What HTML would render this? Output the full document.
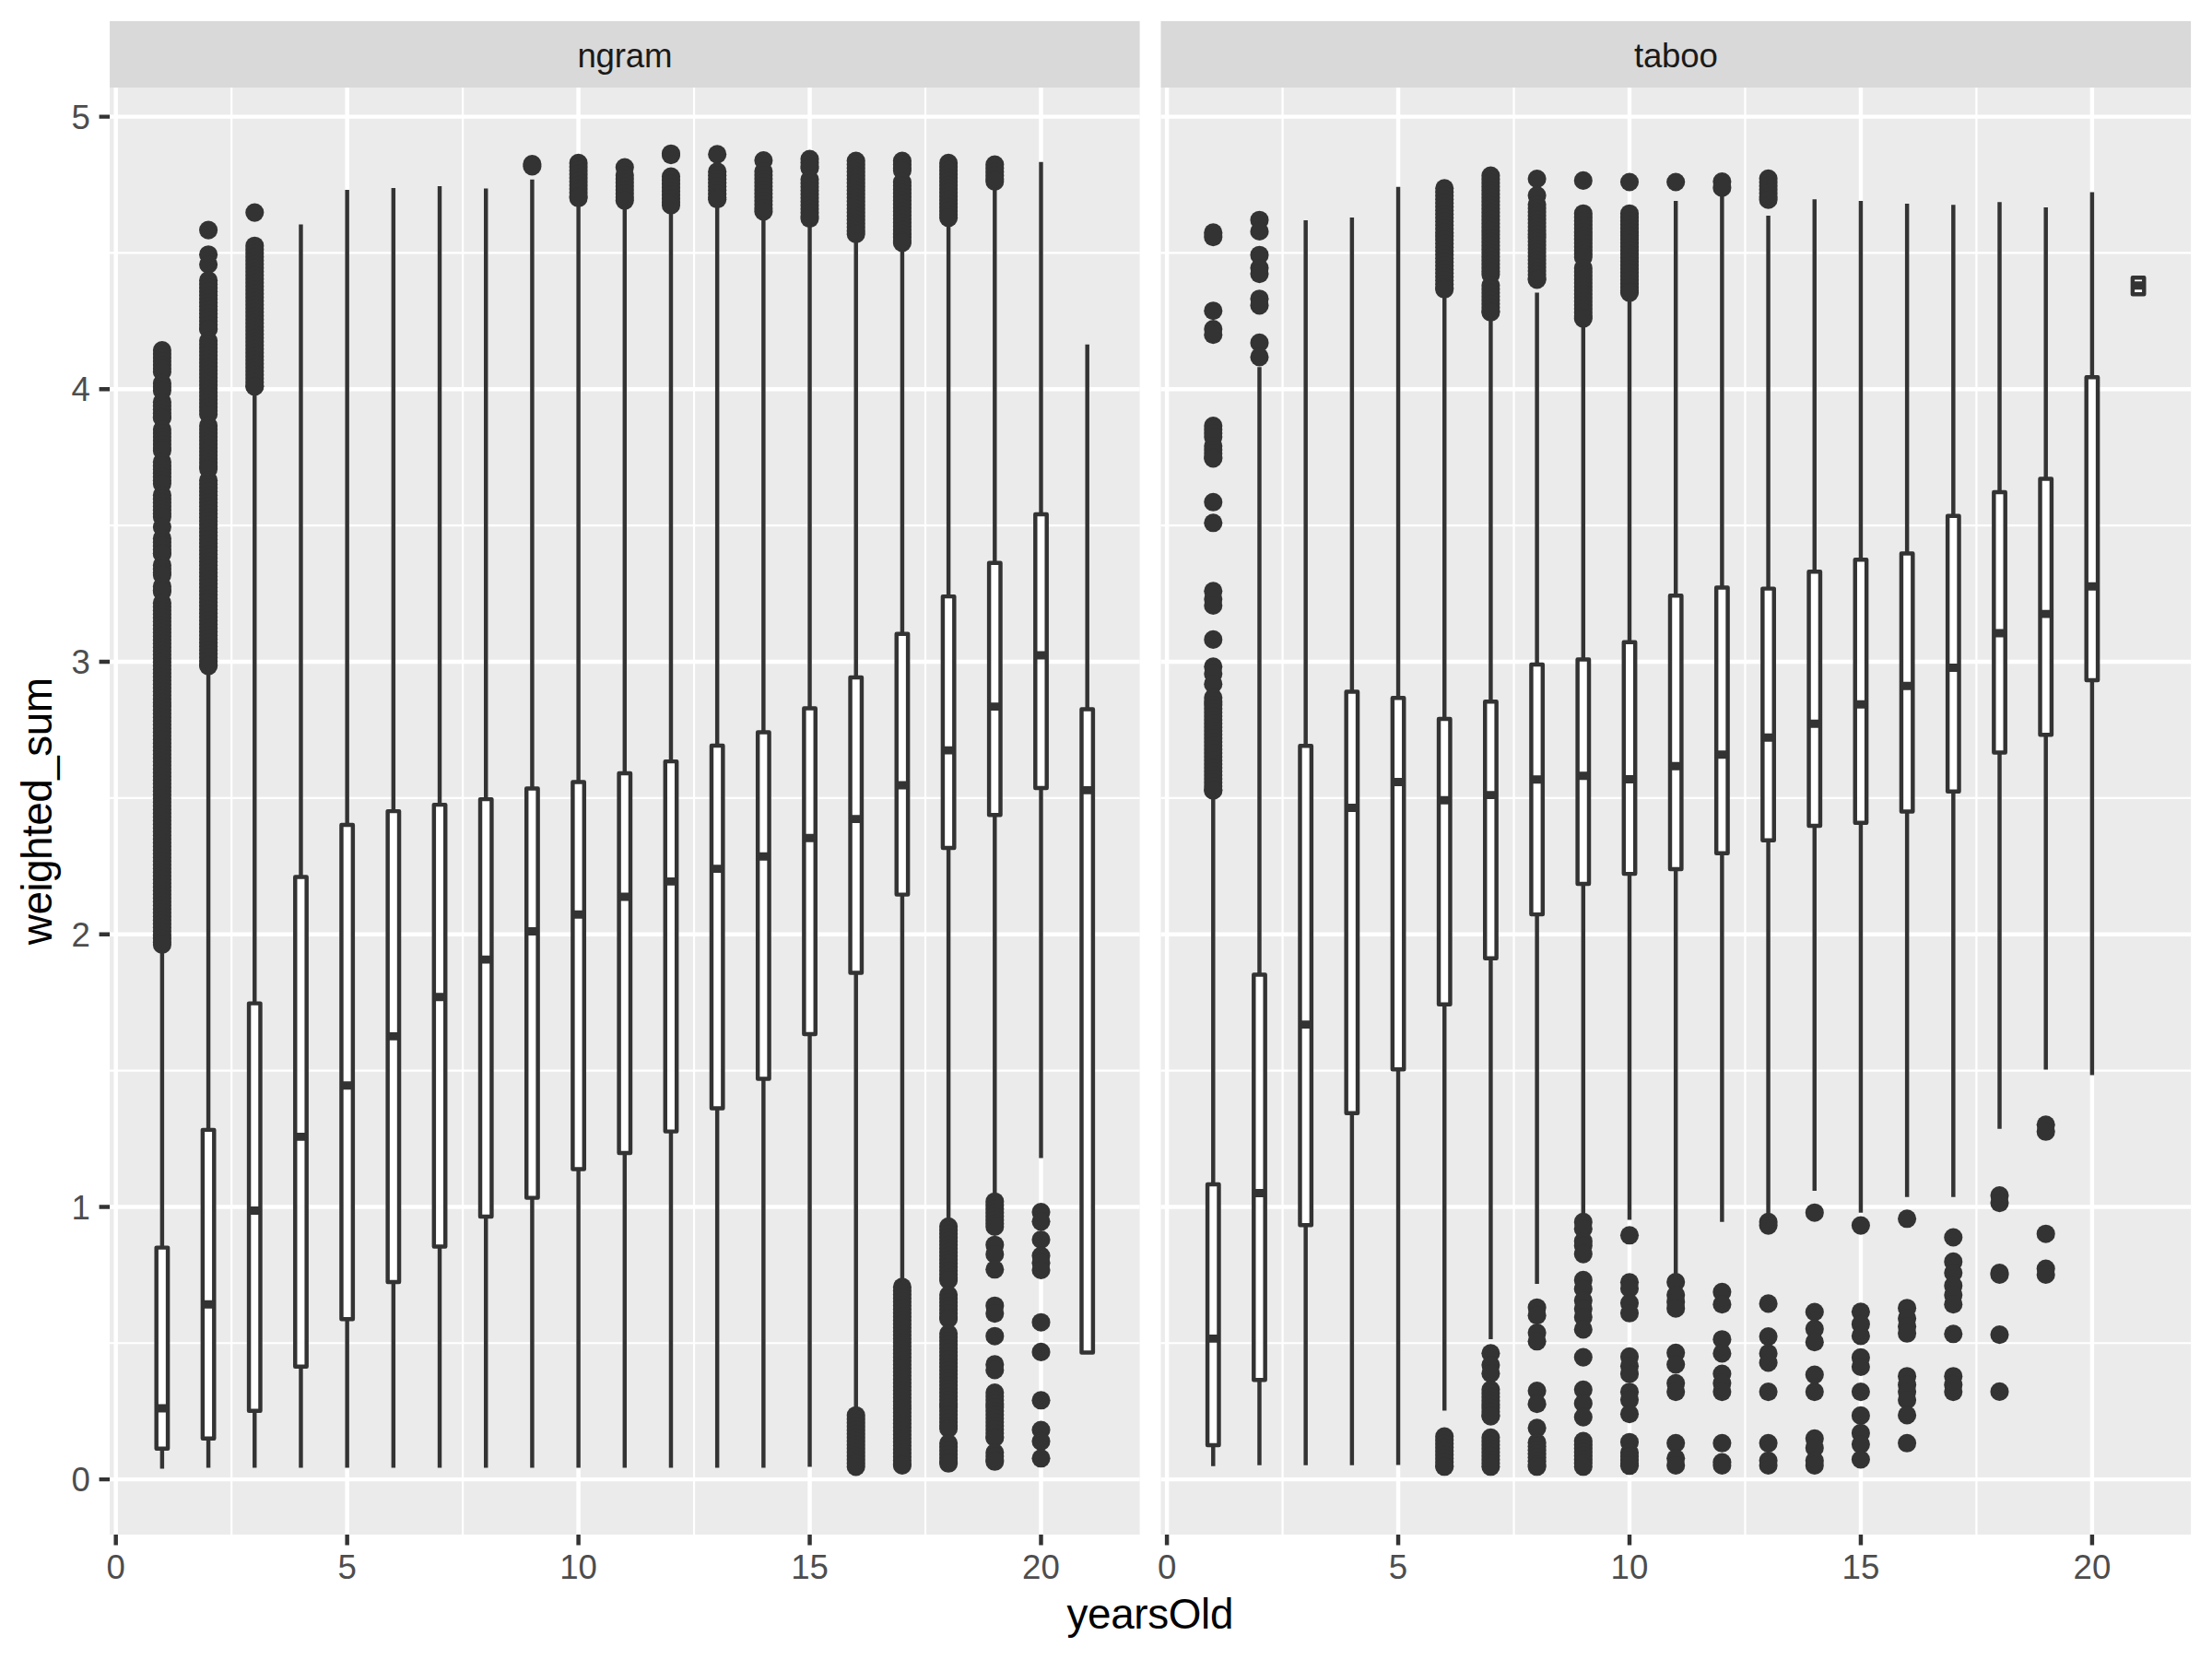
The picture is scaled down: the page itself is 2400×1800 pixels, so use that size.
<!DOCTYPE html>
<html><head><meta charset="utf-8"><title>plot</title><style>html,body{margin:0;padding:0;background:#fff}body{width:2400px;height:1800px;overflow:hidden}</style></head><body>
<svg width="2400" height="1800" viewBox="0 0 2400 1800" style="display:block">
<rect width="2400" height="1800" fill="#fff"/>
<rect x="119.06" y="22.9" width="1117.54" height="72.10" fill="#D9D9D9"/>
<text x="677.83" y="72.8" text-anchor="middle" font-size="36.67" letter-spacing="-0.2" fill="#1A1A1A" font-family="Liberation Sans, Arial, Helvetica, sans-serif">ngram</text>
<rect x="119.06" y="95.0" width="1117.54" height="1570.0" fill="#EBEBEB"/>
<path d="M119.06 1457.25H1236.60M119.06 1161.55H1236.60M119.06 865.85H1236.60M119.06 570.15H1236.60M119.06 274.45H1236.60M251.18 95.0V1665.0M502.12 95.0V1665.0M753.08 95.0V1665.0M1004.02 95.0V1665.0" stroke="#fff" stroke-width="2.22" fill="none"/>
<path d="M119.06 1605.10H1236.60M119.06 1309.40H1236.60M119.06 1013.70H1236.60M119.06 718.00H1236.60M119.06 422.30H1236.60M119.06 126.60H1236.60M125.70 95.0V1665.0M376.65 95.0V1665.0M627.60 95.0V1665.0M878.55 95.0V1665.0M1129.50 95.0V1665.0" stroke="#fff" stroke-width="4.45" fill="none"/>
<g fill="#333" stroke="none">
<circle cx="175.9" cy="380.1" r="10.05"/>
<circle cx="175.9" cy="384.1" r="10.05"/>
<circle cx="175.9" cy="388.1" r="10.05"/>
<circle cx="175.9" cy="392.1" r="10.05"/>
<circle cx="175.9" cy="396.1" r="10.05"/>
<circle cx="175.9" cy="400.1" r="10.05"/>
<circle cx="175.9" cy="403.4" r="10.05"/>
<circle cx="175.9" cy="415.9" r="10.05"/>
<circle cx="175.9" cy="419.9" r="10.05"/>
<circle cx="175.9" cy="423.8" r="10.05"/>
<circle cx="175.9" cy="436.2" r="10.05"/>
<circle cx="175.9" cy="440.2" r="10.05"/>
<circle cx="175.9" cy="444.2" r="10.05"/>
<circle cx="175.9" cy="448.2" r="10.05"/>
<circle cx="175.9" cy="452.2" r="10.05"/>
<circle cx="175.9" cy="453.6" r="10.05"/>
<circle cx="175.9" cy="466.1" r="10.05"/>
<circle cx="175.9" cy="470.1" r="10.05"/>
<circle cx="175.9" cy="474.1" r="10.05"/>
<circle cx="175.9" cy="478.1" r="10.05"/>
<circle cx="175.9" cy="482.1" r="10.05"/>
<circle cx="175.9" cy="486.1" r="10.05"/>
<circle cx="175.9" cy="488.8" r="10.05"/>
<circle cx="175.9" cy="501.2" r="10.05"/>
<circle cx="175.9" cy="505.2" r="10.05"/>
<circle cx="175.9" cy="509.2" r="10.05"/>
<circle cx="175.9" cy="513.2" r="10.05"/>
<circle cx="175.9" cy="517.2" r="10.05"/>
<circle cx="175.9" cy="521.2" r="10.05"/>
<circle cx="175.9" cy="524.8" r="10.05"/>
<circle cx="175.9" cy="537.2" r="10.05"/>
<circle cx="175.9" cy="541.2" r="10.05"/>
<circle cx="175.9" cy="545.2" r="10.05"/>
<circle cx="175.9" cy="549.2" r="10.05"/>
<circle cx="175.9" cy="553.2" r="10.05"/>
<circle cx="175.9" cy="557.2" r="10.05"/>
<circle cx="175.9" cy="560.8" r="10.05"/>
<circle cx="175.9" cy="571.8" r="10.05"/>
<circle cx="175.9" cy="584.2" r="10.05"/>
<circle cx="175.9" cy="588.2" r="10.05"/>
<circle cx="175.9" cy="592.2" r="10.05"/>
<circle cx="175.9" cy="596.2" r="10.05"/>
<circle cx="175.9" cy="600.2" r="10.05"/>
<circle cx="175.9" cy="600.8" r="10.05"/>
<circle cx="175.9" cy="613.2" r="10.05"/>
<circle cx="175.9" cy="617.2" r="10.05"/>
<circle cx="175.9" cy="621.2" r="10.05"/>
<circle cx="175.9" cy="623.8" r="10.05"/>
<circle cx="175.9" cy="636.2" r="10.05"/>
<circle cx="175.9" cy="640.2" r="10.05"/>
<circle cx="175.9" cy="641.8" r="10.05"/>
<circle cx="175.9" cy="654.2" r="10.05"/>
<circle cx="175.9" cy="658.2" r="10.05"/>
<circle cx="175.9" cy="662.2" r="10.05"/>
<circle cx="175.9" cy="666.2" r="10.05"/>
<circle cx="175.9" cy="670.2" r="10.05"/>
<circle cx="175.9" cy="674.2" r="10.05"/>
<circle cx="175.9" cy="678.2" r="10.05"/>
<circle cx="175.9" cy="682.2" r="10.05"/>
<circle cx="175.9" cy="686.2" r="10.05"/>
<circle cx="175.9" cy="690.2" r="10.05"/>
<circle cx="175.9" cy="694.2" r="10.05"/>
<circle cx="175.9" cy="698.2" r="10.05"/>
<circle cx="175.9" cy="702.2" r="10.05"/>
<circle cx="175.9" cy="706.2" r="10.05"/>
<circle cx="175.9" cy="710.2" r="10.05"/>
<circle cx="175.9" cy="714.2" r="10.05"/>
<circle cx="175.9" cy="718.2" r="10.05"/>
<circle cx="175.9" cy="722.2" r="10.05"/>
<circle cx="175.9" cy="726.2" r="10.05"/>
<circle cx="175.9" cy="730.2" r="10.05"/>
<circle cx="175.9" cy="734.2" r="10.05"/>
<circle cx="175.9" cy="738.2" r="10.05"/>
<circle cx="175.9" cy="742.2" r="10.05"/>
<circle cx="175.9" cy="746.2" r="10.05"/>
<circle cx="175.9" cy="750.2" r="10.05"/>
<circle cx="175.9" cy="754.2" r="10.05"/>
<circle cx="175.9" cy="758.2" r="10.05"/>
<circle cx="175.9" cy="762.2" r="10.05"/>
<circle cx="175.9" cy="766.2" r="10.05"/>
<circle cx="175.9" cy="770.2" r="10.05"/>
<circle cx="175.9" cy="774.2" r="10.05"/>
<circle cx="175.9" cy="778.2" r="10.05"/>
<circle cx="175.9" cy="782.2" r="10.05"/>
<circle cx="175.9" cy="786.2" r="10.05"/>
<circle cx="175.9" cy="790.2" r="10.05"/>
<circle cx="175.9" cy="794.2" r="10.05"/>
<circle cx="175.9" cy="798.2" r="10.05"/>
<circle cx="175.9" cy="802.2" r="10.05"/>
<circle cx="175.9" cy="806.2" r="10.05"/>
<circle cx="175.9" cy="810.2" r="10.05"/>
<circle cx="175.9" cy="814.2" r="10.05"/>
<circle cx="175.9" cy="818.2" r="10.05"/>
<circle cx="175.9" cy="822.2" r="10.05"/>
<circle cx="175.9" cy="826.2" r="10.05"/>
<circle cx="175.9" cy="830.2" r="10.05"/>
<circle cx="175.9" cy="834.2" r="10.05"/>
<circle cx="175.9" cy="838.2" r="10.05"/>
<circle cx="175.9" cy="842.2" r="10.05"/>
<circle cx="175.9" cy="846.2" r="10.05"/>
<circle cx="175.9" cy="850.2" r="10.05"/>
<circle cx="175.9" cy="854.2" r="10.05"/>
<circle cx="175.9" cy="858.2" r="10.05"/>
<circle cx="175.9" cy="862.2" r="10.05"/>
<circle cx="175.9" cy="866.2" r="10.05"/>
<circle cx="175.9" cy="870.2" r="10.05"/>
<circle cx="175.9" cy="874.2" r="10.05"/>
<circle cx="175.9" cy="878.2" r="10.05"/>
<circle cx="175.9" cy="882.2" r="10.05"/>
<circle cx="175.9" cy="886.2" r="10.05"/>
<circle cx="175.9" cy="890.2" r="10.05"/>
<circle cx="175.9" cy="894.2" r="10.05"/>
<circle cx="175.9" cy="898.2" r="10.05"/>
<circle cx="175.9" cy="902.2" r="10.05"/>
<circle cx="175.9" cy="906.2" r="10.05"/>
<circle cx="175.9" cy="910.2" r="10.05"/>
<circle cx="175.9" cy="914.2" r="10.05"/>
<circle cx="175.9" cy="918.2" r="10.05"/>
<circle cx="175.9" cy="922.2" r="10.05"/>
<circle cx="175.9" cy="926.2" r="10.05"/>
<circle cx="175.9" cy="930.2" r="10.05"/>
<circle cx="175.9" cy="934.2" r="10.05"/>
<circle cx="175.9" cy="938.2" r="10.05"/>
<circle cx="175.9" cy="942.2" r="10.05"/>
<circle cx="175.9" cy="946.2" r="10.05"/>
<circle cx="175.9" cy="950.2" r="10.05"/>
<circle cx="175.9" cy="954.2" r="10.05"/>
<circle cx="175.9" cy="958.2" r="10.05"/>
<circle cx="175.9" cy="962.2" r="10.05"/>
<circle cx="175.9" cy="966.2" r="10.05"/>
<circle cx="175.9" cy="970.2" r="10.05"/>
<circle cx="175.9" cy="974.2" r="10.05"/>
<circle cx="175.9" cy="978.2" r="10.05"/>
<circle cx="175.9" cy="982.2" r="10.05"/>
<circle cx="175.9" cy="986.2" r="10.05"/>
<circle cx="175.9" cy="990.2" r="10.05"/>
<circle cx="175.9" cy="994.2" r="10.05"/>
<circle cx="175.9" cy="998.2" r="10.05"/>
<circle cx="175.9" cy="1002.2" r="10.05"/>
<circle cx="175.9" cy="1006.2" r="10.05"/>
<circle cx="175.9" cy="1010.2" r="10.05"/>
<circle cx="175.9" cy="1014.2" r="10.05"/>
<circle cx="175.9" cy="1018.2" r="10.05"/>
<circle cx="175.9" cy="1022.2" r="10.05"/>
<circle cx="175.9" cy="1025.0" r="10.05"/>
<circle cx="226.1" cy="249.6" r="10.05"/>
<circle cx="226.1" cy="276.2" r="10.05"/>
<circle cx="226.1" cy="287.0" r="10.05"/>
<circle cx="226.1" cy="304.2" r="10.05"/>
<circle cx="226.1" cy="308.2" r="10.05"/>
<circle cx="226.1" cy="312.2" r="10.05"/>
<circle cx="226.1" cy="316.2" r="10.05"/>
<circle cx="226.1" cy="320.2" r="10.05"/>
<circle cx="226.1" cy="324.2" r="10.05"/>
<circle cx="226.1" cy="328.2" r="10.05"/>
<circle cx="226.1" cy="332.2" r="10.05"/>
<circle cx="226.1" cy="336.2" r="10.05"/>
<circle cx="226.1" cy="340.2" r="10.05"/>
<circle cx="226.1" cy="344.2" r="10.05"/>
<circle cx="226.1" cy="348.2" r="10.05"/>
<circle cx="226.1" cy="352.2" r="10.05"/>
<circle cx="226.1" cy="356.2" r="10.05"/>
<circle cx="226.1" cy="357.2" r="10.05"/>
<circle cx="226.1" cy="369.8" r="10.05"/>
<circle cx="226.1" cy="373.8" r="10.05"/>
<circle cx="226.1" cy="377.8" r="10.05"/>
<circle cx="226.1" cy="381.8" r="10.05"/>
<circle cx="226.1" cy="385.8" r="10.05"/>
<circle cx="226.1" cy="389.8" r="10.05"/>
<circle cx="226.1" cy="393.8" r="10.05"/>
<circle cx="226.1" cy="397.8" r="10.05"/>
<circle cx="226.1" cy="401.8" r="10.05"/>
<circle cx="226.1" cy="405.8" r="10.05"/>
<circle cx="226.1" cy="409.8" r="10.05"/>
<circle cx="226.1" cy="413.8" r="10.05"/>
<circle cx="226.1" cy="417.8" r="10.05"/>
<circle cx="226.1" cy="421.8" r="10.05"/>
<circle cx="226.1" cy="425.8" r="10.05"/>
<circle cx="226.1" cy="429.8" r="10.05"/>
<circle cx="226.1" cy="433.8" r="10.05"/>
<circle cx="226.1" cy="437.8" r="10.05"/>
<circle cx="226.1" cy="441.8" r="10.05"/>
<circle cx="226.1" cy="445.8" r="10.05"/>
<circle cx="226.1" cy="449.4" r="10.05"/>
<circle cx="226.1" cy="461.9" r="10.05"/>
<circle cx="226.1" cy="465.9" r="10.05"/>
<circle cx="226.1" cy="469.9" r="10.05"/>
<circle cx="226.1" cy="473.9" r="10.05"/>
<circle cx="226.1" cy="477.9" r="10.05"/>
<circle cx="226.1" cy="481.9" r="10.05"/>
<circle cx="226.1" cy="485.9" r="10.05"/>
<circle cx="226.1" cy="489.9" r="10.05"/>
<circle cx="226.1" cy="493.9" r="10.05"/>
<circle cx="226.1" cy="497.9" r="10.05"/>
<circle cx="226.1" cy="501.9" r="10.05"/>
<circle cx="226.1" cy="505.9" r="10.05"/>
<circle cx="226.1" cy="508.8" r="10.05"/>
<circle cx="226.1" cy="521.2" r="10.05"/>
<circle cx="226.1" cy="525.2" r="10.05"/>
<circle cx="226.1" cy="529.2" r="10.05"/>
<circle cx="226.1" cy="533.2" r="10.05"/>
<circle cx="226.1" cy="537.2" r="10.05"/>
<circle cx="226.1" cy="541.2" r="10.05"/>
<circle cx="226.1" cy="545.2" r="10.05"/>
<circle cx="226.1" cy="549.2" r="10.05"/>
<circle cx="226.1" cy="553.2" r="10.05"/>
<circle cx="226.1" cy="557.2" r="10.05"/>
<circle cx="226.1" cy="561.2" r="10.05"/>
<circle cx="226.1" cy="565.2" r="10.05"/>
<circle cx="226.1" cy="569.2" r="10.05"/>
<circle cx="226.1" cy="573.2" r="10.05"/>
<circle cx="226.1" cy="577.2" r="10.05"/>
<circle cx="226.1" cy="581.2" r="10.05"/>
<circle cx="226.1" cy="585.2" r="10.05"/>
<circle cx="226.1" cy="589.2" r="10.05"/>
<circle cx="226.1" cy="593.2" r="10.05"/>
<circle cx="226.1" cy="597.2" r="10.05"/>
<circle cx="226.1" cy="601.2" r="10.05"/>
<circle cx="226.1" cy="605.2" r="10.05"/>
<circle cx="226.1" cy="609.2" r="10.05"/>
<circle cx="226.1" cy="613.2" r="10.05"/>
<circle cx="226.1" cy="617.2" r="10.05"/>
<circle cx="226.1" cy="621.2" r="10.05"/>
<circle cx="226.1" cy="625.2" r="10.05"/>
<circle cx="226.1" cy="629.2" r="10.05"/>
<circle cx="226.1" cy="633.2" r="10.05"/>
<circle cx="226.1" cy="637.2" r="10.05"/>
<circle cx="226.1" cy="641.2" r="10.05"/>
<circle cx="226.1" cy="645.2" r="10.05"/>
<circle cx="226.1" cy="649.2" r="10.05"/>
<circle cx="226.1" cy="653.2" r="10.05"/>
<circle cx="226.1" cy="657.2" r="10.05"/>
<circle cx="226.1" cy="661.2" r="10.05"/>
<circle cx="226.1" cy="665.2" r="10.05"/>
<circle cx="226.1" cy="669.2" r="10.05"/>
<circle cx="226.1" cy="673.2" r="10.05"/>
<circle cx="226.1" cy="677.2" r="10.05"/>
<circle cx="226.1" cy="681.2" r="10.05"/>
<circle cx="226.1" cy="685.2" r="10.05"/>
<circle cx="226.1" cy="689.2" r="10.05"/>
<circle cx="226.1" cy="693.2" r="10.05"/>
<circle cx="226.1" cy="697.2" r="10.05"/>
<circle cx="226.1" cy="701.2" r="10.05"/>
<circle cx="226.1" cy="705.2" r="10.05"/>
<circle cx="226.1" cy="709.2" r="10.05"/>
<circle cx="226.1" cy="713.2" r="10.05"/>
<circle cx="226.1" cy="717.2" r="10.05"/>
<circle cx="226.1" cy="721.2" r="10.05"/>
<circle cx="226.1" cy="722.6" r="10.05"/>
<circle cx="276.3" cy="230.6" r="10.05"/>
<circle cx="276.3" cy="266.7" r="10.05"/>
<circle cx="276.3" cy="270.7" r="10.05"/>
<circle cx="276.3" cy="274.7" r="10.05"/>
<circle cx="276.3" cy="278.7" r="10.05"/>
<circle cx="276.3" cy="282.7" r="10.05"/>
<circle cx="276.3" cy="286.7" r="10.05"/>
<circle cx="276.3" cy="290.7" r="10.05"/>
<circle cx="276.3" cy="294.7" r="10.05"/>
<circle cx="276.3" cy="298.7" r="10.05"/>
<circle cx="276.3" cy="302.7" r="10.05"/>
<circle cx="276.3" cy="306.7" r="10.05"/>
<circle cx="276.3" cy="310.7" r="10.05"/>
<circle cx="276.3" cy="314.7" r="10.05"/>
<circle cx="276.3" cy="318.7" r="10.05"/>
<circle cx="276.3" cy="322.7" r="10.05"/>
<circle cx="276.3" cy="326.7" r="10.05"/>
<circle cx="276.3" cy="330.7" r="10.05"/>
<circle cx="276.3" cy="334.7" r="10.05"/>
<circle cx="276.3" cy="338.7" r="10.05"/>
<circle cx="276.3" cy="342.7" r="10.05"/>
<circle cx="276.3" cy="346.7" r="10.05"/>
<circle cx="276.3" cy="350.7" r="10.05"/>
<circle cx="276.3" cy="354.7" r="10.05"/>
<circle cx="276.3" cy="358.7" r="10.05"/>
<circle cx="276.3" cy="362.7" r="10.05"/>
<circle cx="276.3" cy="366.7" r="10.05"/>
<circle cx="276.3" cy="370.7" r="10.05"/>
<circle cx="276.3" cy="374.7" r="10.05"/>
<circle cx="276.3" cy="378.7" r="10.05"/>
<circle cx="276.3" cy="382.7" r="10.05"/>
<circle cx="276.3" cy="386.7" r="10.05"/>
<circle cx="276.3" cy="390.7" r="10.05"/>
<circle cx="276.3" cy="394.7" r="10.05"/>
<circle cx="276.3" cy="398.7" r="10.05"/>
<circle cx="276.3" cy="402.7" r="10.05"/>
<circle cx="276.3" cy="406.7" r="10.05"/>
<circle cx="276.3" cy="410.7" r="10.05"/>
<circle cx="276.3" cy="414.7" r="10.05"/>
<circle cx="276.3" cy="418.7" r="10.05"/>
<circle cx="276.3" cy="419.3" r="10.05"/>
<circle cx="577.4" cy="178.0" r="10.05"/>
<circle cx="577.4" cy="180.5" r="10.05"/>
<circle cx="627.6" cy="176.9" r="10.05"/>
<circle cx="627.6" cy="180.9" r="10.05"/>
<circle cx="627.6" cy="184.9" r="10.05"/>
<circle cx="627.6" cy="188.9" r="10.05"/>
<circle cx="627.6" cy="192.9" r="10.05"/>
<circle cx="627.6" cy="196.9" r="10.05"/>
<circle cx="627.6" cy="200.9" r="10.05"/>
<circle cx="627.6" cy="204.9" r="10.05"/>
<circle cx="627.6" cy="208.9" r="10.05"/>
<circle cx="627.6" cy="212.9" r="10.05"/>
<circle cx="627.6" cy="214.8" r="10.05"/>
<circle cx="677.8" cy="181.6" r="10.05"/>
<circle cx="677.8" cy="190.0" r="10.05"/>
<circle cx="677.8" cy="194.0" r="10.05"/>
<circle cx="677.8" cy="198.0" r="10.05"/>
<circle cx="677.8" cy="202.0" r="10.05"/>
<circle cx="677.8" cy="206.0" r="10.05"/>
<circle cx="677.8" cy="210.0" r="10.05"/>
<circle cx="677.8" cy="214.0" r="10.05"/>
<circle cx="677.8" cy="217.6" r="10.05"/>
<circle cx="728.0" cy="166.7" r="10.05"/>
<circle cx="728.0" cy="168.1" r="10.05"/>
<circle cx="728.0" cy="191.6" r="10.05"/>
<circle cx="728.0" cy="195.6" r="10.05"/>
<circle cx="728.0" cy="199.6" r="10.05"/>
<circle cx="728.0" cy="203.6" r="10.05"/>
<circle cx="728.0" cy="207.6" r="10.05"/>
<circle cx="728.0" cy="211.6" r="10.05"/>
<circle cx="728.0" cy="215.6" r="10.05"/>
<circle cx="728.0" cy="219.6" r="10.05"/>
<circle cx="728.0" cy="222.7" r="10.05"/>
<circle cx="778.2" cy="167.4" r="10.05"/>
<circle cx="778.2" cy="186.2" r="10.05"/>
<circle cx="778.2" cy="190.2" r="10.05"/>
<circle cx="778.2" cy="194.2" r="10.05"/>
<circle cx="778.2" cy="198.2" r="10.05"/>
<circle cx="778.2" cy="202.2" r="10.05"/>
<circle cx="778.2" cy="206.2" r="10.05"/>
<circle cx="778.2" cy="210.2" r="10.05"/>
<circle cx="778.2" cy="214.2" r="10.05"/>
<circle cx="778.2" cy="216.2" r="10.05"/>
<circle cx="828.4" cy="174.0" r="10.05"/>
<circle cx="828.4" cy="186.0" r="10.05"/>
<circle cx="828.4" cy="190.0" r="10.05"/>
<circle cx="828.4" cy="194.0" r="10.05"/>
<circle cx="828.4" cy="198.0" r="10.05"/>
<circle cx="828.4" cy="202.0" r="10.05"/>
<circle cx="828.4" cy="206.0" r="10.05"/>
<circle cx="828.4" cy="210.0" r="10.05"/>
<circle cx="828.4" cy="214.0" r="10.05"/>
<circle cx="828.4" cy="218.0" r="10.05"/>
<circle cx="828.4" cy="222.0" r="10.05"/>
<circle cx="828.4" cy="226.0" r="10.05"/>
<circle cx="828.4" cy="229.5" r="10.05"/>
<circle cx="878.5" cy="172.6" r="10.05"/>
<circle cx="878.5" cy="176.6" r="10.05"/>
<circle cx="878.5" cy="180.6" r="10.05"/>
<circle cx="878.5" cy="182.4" r="10.05"/>
<circle cx="878.5" cy="194.8" r="10.05"/>
<circle cx="878.5" cy="198.8" r="10.05"/>
<circle cx="878.5" cy="202.8" r="10.05"/>
<circle cx="878.5" cy="206.8" r="10.05"/>
<circle cx="878.5" cy="210.8" r="10.05"/>
<circle cx="878.5" cy="214.8" r="10.05"/>
<circle cx="878.5" cy="218.8" r="10.05"/>
<circle cx="878.5" cy="222.8" r="10.05"/>
<circle cx="878.5" cy="226.8" r="10.05"/>
<circle cx="878.5" cy="230.8" r="10.05"/>
<circle cx="878.5" cy="234.8" r="10.05"/>
<circle cx="878.5" cy="237.1" r="10.05"/>
<circle cx="928.7" cy="174.5" r="10.05"/>
<circle cx="928.7" cy="178.5" r="10.05"/>
<circle cx="928.7" cy="182.5" r="10.05"/>
<circle cx="928.7" cy="186.5" r="10.05"/>
<circle cx="928.7" cy="190.5" r="10.05"/>
<circle cx="928.7" cy="194.5" r="10.05"/>
<circle cx="928.7" cy="198.5" r="10.05"/>
<circle cx="928.7" cy="202.5" r="10.05"/>
<circle cx="928.7" cy="206.5" r="10.05"/>
<circle cx="928.7" cy="210.5" r="10.05"/>
<circle cx="928.7" cy="214.5" r="10.05"/>
<circle cx="928.7" cy="218.5" r="10.05"/>
<circle cx="928.7" cy="222.5" r="10.05"/>
<circle cx="928.7" cy="226.5" r="10.05"/>
<circle cx="928.7" cy="230.5" r="10.05"/>
<circle cx="928.7" cy="234.5" r="10.05"/>
<circle cx="928.7" cy="238.5" r="10.05"/>
<circle cx="928.7" cy="242.5" r="10.05"/>
<circle cx="928.7" cy="246.5" r="10.05"/>
<circle cx="928.7" cy="250.5" r="10.05"/>
<circle cx="928.7" cy="253.9" r="10.05"/>
<circle cx="928.7" cy="1535.7" r="10.05"/>
<circle cx="928.7" cy="1539.7" r="10.05"/>
<circle cx="928.7" cy="1543.7" r="10.05"/>
<circle cx="928.7" cy="1547.7" r="10.05"/>
<circle cx="928.7" cy="1551.7" r="10.05"/>
<circle cx="928.7" cy="1555.7" r="10.05"/>
<circle cx="928.7" cy="1559.7" r="10.05"/>
<circle cx="928.7" cy="1563.7" r="10.05"/>
<circle cx="928.7" cy="1567.7" r="10.05"/>
<circle cx="928.7" cy="1571.7" r="10.05"/>
<circle cx="928.7" cy="1575.7" r="10.05"/>
<circle cx="928.7" cy="1579.7" r="10.05"/>
<circle cx="928.7" cy="1583.7" r="10.05"/>
<circle cx="928.7" cy="1587.7" r="10.05"/>
<circle cx="928.7" cy="1591.5" r="10.05"/>
<circle cx="978.9" cy="174.5" r="10.05"/>
<circle cx="978.9" cy="178.5" r="10.05"/>
<circle cx="978.9" cy="182.5" r="10.05"/>
<circle cx="978.9" cy="185.0" r="10.05"/>
<circle cx="978.9" cy="197.6" r="10.05"/>
<circle cx="978.9" cy="201.6" r="10.05"/>
<circle cx="978.9" cy="205.6" r="10.05"/>
<circle cx="978.9" cy="209.6" r="10.05"/>
<circle cx="978.9" cy="213.6" r="10.05"/>
<circle cx="978.9" cy="217.6" r="10.05"/>
<circle cx="978.9" cy="221.6" r="10.05"/>
<circle cx="978.9" cy="225.6" r="10.05"/>
<circle cx="978.9" cy="229.6" r="10.05"/>
<circle cx="978.9" cy="233.6" r="10.05"/>
<circle cx="978.9" cy="237.6" r="10.05"/>
<circle cx="978.9" cy="241.6" r="10.05"/>
<circle cx="978.9" cy="245.6" r="10.05"/>
<circle cx="978.9" cy="249.6" r="10.05"/>
<circle cx="978.9" cy="253.6" r="10.05"/>
<circle cx="978.9" cy="257.6" r="10.05"/>
<circle cx="978.9" cy="261.6" r="10.05"/>
<circle cx="978.9" cy="263.4" r="10.05"/>
<circle cx="978.9" cy="1396.4" r="10.05"/>
<circle cx="978.9" cy="1400.4" r="10.05"/>
<circle cx="978.9" cy="1404.4" r="10.05"/>
<circle cx="978.9" cy="1408.4" r="10.05"/>
<circle cx="978.9" cy="1412.4" r="10.05"/>
<circle cx="978.9" cy="1416.4" r="10.05"/>
<circle cx="978.9" cy="1420.4" r="10.05"/>
<circle cx="978.9" cy="1424.4" r="10.05"/>
<circle cx="978.9" cy="1428.4" r="10.05"/>
<circle cx="978.9" cy="1432.4" r="10.05"/>
<circle cx="978.9" cy="1436.4" r="10.05"/>
<circle cx="978.9" cy="1440.4" r="10.05"/>
<circle cx="978.9" cy="1444.4" r="10.05"/>
<circle cx="978.9" cy="1448.4" r="10.05"/>
<circle cx="978.9" cy="1452.4" r="10.05"/>
<circle cx="978.9" cy="1456.4" r="10.05"/>
<circle cx="978.9" cy="1460.4" r="10.05"/>
<circle cx="978.9" cy="1464.4" r="10.05"/>
<circle cx="978.9" cy="1468.4" r="10.05"/>
<circle cx="978.9" cy="1472.4" r="10.05"/>
<circle cx="978.9" cy="1476.4" r="10.05"/>
<circle cx="978.9" cy="1480.4" r="10.05"/>
<circle cx="978.9" cy="1484.4" r="10.05"/>
<circle cx="978.9" cy="1488.4" r="10.05"/>
<circle cx="978.9" cy="1492.4" r="10.05"/>
<circle cx="978.9" cy="1496.4" r="10.05"/>
<circle cx="978.9" cy="1500.4" r="10.05"/>
<circle cx="978.9" cy="1504.4" r="10.05"/>
<circle cx="978.9" cy="1508.4" r="10.05"/>
<circle cx="978.9" cy="1512.4" r="10.05"/>
<circle cx="978.9" cy="1516.4" r="10.05"/>
<circle cx="978.9" cy="1520.4" r="10.05"/>
<circle cx="978.9" cy="1524.4" r="10.05"/>
<circle cx="978.9" cy="1528.4" r="10.05"/>
<circle cx="978.9" cy="1532.4" r="10.05"/>
<circle cx="978.9" cy="1536.4" r="10.05"/>
<circle cx="978.9" cy="1540.4" r="10.05"/>
<circle cx="978.9" cy="1544.4" r="10.05"/>
<circle cx="978.9" cy="1548.4" r="10.05"/>
<circle cx="978.9" cy="1552.4" r="10.05"/>
<circle cx="978.9" cy="1556.4" r="10.05"/>
<circle cx="978.9" cy="1560.4" r="10.05"/>
<circle cx="978.9" cy="1564.4" r="10.05"/>
<circle cx="978.9" cy="1568.4" r="10.05"/>
<circle cx="978.9" cy="1572.4" r="10.05"/>
<circle cx="978.9" cy="1576.4" r="10.05"/>
<circle cx="978.9" cy="1580.4" r="10.05"/>
<circle cx="978.9" cy="1584.4" r="10.05"/>
<circle cx="978.9" cy="1588.4" r="10.05"/>
<circle cx="978.9" cy="1589.9" r="10.05"/>
<circle cx="1029.1" cy="176.9" r="10.05"/>
<circle cx="1029.1" cy="180.9" r="10.05"/>
<circle cx="1029.1" cy="184.9" r="10.05"/>
<circle cx="1029.1" cy="188.9" r="10.05"/>
<circle cx="1029.1" cy="192.9" r="10.05"/>
<circle cx="1029.1" cy="196.9" r="10.05"/>
<circle cx="1029.1" cy="200.9" r="10.05"/>
<circle cx="1029.1" cy="204.9" r="10.05"/>
<circle cx="1029.1" cy="208.9" r="10.05"/>
<circle cx="1029.1" cy="212.9" r="10.05"/>
<circle cx="1029.1" cy="216.9" r="10.05"/>
<circle cx="1029.1" cy="220.9" r="10.05"/>
<circle cx="1029.1" cy="224.9" r="10.05"/>
<circle cx="1029.1" cy="228.9" r="10.05"/>
<circle cx="1029.1" cy="232.9" r="10.05"/>
<circle cx="1029.1" cy="236.3" r="10.05"/>
<circle cx="1029.1" cy="1330.8" r="10.05"/>
<circle cx="1029.1" cy="1334.8" r="10.05"/>
<circle cx="1029.1" cy="1338.8" r="10.05"/>
<circle cx="1029.1" cy="1342.8" r="10.05"/>
<circle cx="1029.1" cy="1346.8" r="10.05"/>
<circle cx="1029.1" cy="1350.8" r="10.05"/>
<circle cx="1029.1" cy="1354.8" r="10.05"/>
<circle cx="1029.1" cy="1358.8" r="10.05"/>
<circle cx="1029.1" cy="1362.8" r="10.05"/>
<circle cx="1029.1" cy="1366.8" r="10.05"/>
<circle cx="1029.1" cy="1370.8" r="10.05"/>
<circle cx="1029.1" cy="1374.8" r="10.05"/>
<circle cx="1029.1" cy="1378.8" r="10.05"/>
<circle cx="1029.1" cy="1382.8" r="10.05"/>
<circle cx="1029.1" cy="1386.8" r="10.05"/>
<circle cx="1029.1" cy="1389.0" r="10.05"/>
<circle cx="1029.1" cy="1405.0" r="10.05"/>
<circle cx="1029.1" cy="1409.0" r="10.05"/>
<circle cx="1029.1" cy="1413.0" r="10.05"/>
<circle cx="1029.1" cy="1417.0" r="10.05"/>
<circle cx="1029.1" cy="1421.0" r="10.05"/>
<circle cx="1029.1" cy="1425.0" r="10.05"/>
<circle cx="1029.1" cy="1429.0" r="10.05"/>
<circle cx="1029.1" cy="1431.0" r="10.05"/>
<circle cx="1029.1" cy="1447.0" r="10.05"/>
<circle cx="1029.1" cy="1451.0" r="10.05"/>
<circle cx="1029.1" cy="1455.0" r="10.05"/>
<circle cx="1029.1" cy="1459.0" r="10.05"/>
<circle cx="1029.1" cy="1463.0" r="10.05"/>
<circle cx="1029.1" cy="1467.0" r="10.05"/>
<circle cx="1029.1" cy="1471.0" r="10.05"/>
<circle cx="1029.1" cy="1475.0" r="10.05"/>
<circle cx="1029.1" cy="1479.0" r="10.05"/>
<circle cx="1029.1" cy="1483.0" r="10.05"/>
<circle cx="1029.1" cy="1487.0" r="10.05"/>
<circle cx="1029.1" cy="1491.0" r="10.05"/>
<circle cx="1029.1" cy="1495.0" r="10.05"/>
<circle cx="1029.1" cy="1499.0" r="10.05"/>
<circle cx="1029.1" cy="1503.0" r="10.05"/>
<circle cx="1029.1" cy="1507.0" r="10.05"/>
<circle cx="1029.1" cy="1511.0" r="10.05"/>
<circle cx="1029.1" cy="1515.0" r="10.05"/>
<circle cx="1029.1" cy="1519.0" r="10.05"/>
<circle cx="1029.1" cy="1523.0" r="10.05"/>
<circle cx="1029.1" cy="1527.0" r="10.05"/>
<circle cx="1029.1" cy="1531.0" r="10.05"/>
<circle cx="1029.1" cy="1535.0" r="10.05"/>
<circle cx="1029.1" cy="1539.0" r="10.05"/>
<circle cx="1029.1" cy="1543.0" r="10.05"/>
<circle cx="1029.1" cy="1547.0" r="10.05"/>
<circle cx="1029.1" cy="1550.0" r="10.05"/>
<circle cx="1029.1" cy="1566.0" r="10.05"/>
<circle cx="1029.1" cy="1570.0" r="10.05"/>
<circle cx="1029.1" cy="1574.0" r="10.05"/>
<circle cx="1029.1" cy="1578.0" r="10.05"/>
<circle cx="1029.1" cy="1582.0" r="10.05"/>
<circle cx="1029.1" cy="1586.0" r="10.05"/>
<circle cx="1029.1" cy="1587.8" r="10.05"/>
<circle cx="1079.3" cy="178.6" r="10.05"/>
<circle cx="1079.3" cy="182.6" r="10.05"/>
<circle cx="1079.3" cy="186.6" r="10.05"/>
<circle cx="1079.3" cy="190.6" r="10.05"/>
<circle cx="1079.3" cy="194.6" r="10.05"/>
<circle cx="1079.3" cy="196.9" r="10.05"/>
<circle cx="1079.3" cy="1303.7" r="10.05"/>
<circle cx="1079.3" cy="1307.7" r="10.05"/>
<circle cx="1079.3" cy="1311.7" r="10.05"/>
<circle cx="1079.3" cy="1315.7" r="10.05"/>
<circle cx="1079.3" cy="1319.7" r="10.05"/>
<circle cx="1079.3" cy="1323.7" r="10.05"/>
<circle cx="1079.3" cy="1327.7" r="10.05"/>
<circle cx="1079.3" cy="1331.0" r="10.05"/>
<circle cx="1079.3" cy="1350.7" r="10.05"/>
<circle cx="1079.3" cy="1360.9" r="10.05"/>
<circle cx="1079.3" cy="1377.3" r="10.05"/>
<circle cx="1079.3" cy="1416.7" r="10.05"/>
<circle cx="1079.3" cy="1425.1" r="10.05"/>
<circle cx="1079.3" cy="1449.7" r="10.05"/>
<circle cx="1079.3" cy="1480.4" r="10.05"/>
<circle cx="1079.3" cy="1486.4" r="10.05"/>
<circle cx="1079.3" cy="1511.0" r="10.05"/>
<circle cx="1079.3" cy="1515.0" r="10.05"/>
<circle cx="1079.3" cy="1519.0" r="10.05"/>
<circle cx="1079.3" cy="1523.0" r="10.05"/>
<circle cx="1079.3" cy="1527.0" r="10.05"/>
<circle cx="1079.3" cy="1531.0" r="10.05"/>
<circle cx="1079.3" cy="1535.0" r="10.05"/>
<circle cx="1079.3" cy="1539.0" r="10.05"/>
<circle cx="1079.3" cy="1543.0" r="10.05"/>
<circle cx="1079.3" cy="1547.0" r="10.05"/>
<circle cx="1079.3" cy="1551.0" r="10.05"/>
<circle cx="1079.3" cy="1555.0" r="10.05"/>
<circle cx="1079.3" cy="1559.0" r="10.05"/>
<circle cx="1079.3" cy="1560.0" r="10.05"/>
<circle cx="1079.3" cy="1576.0" r="10.05"/>
<circle cx="1079.3" cy="1580.0" r="10.05"/>
<circle cx="1079.3" cy="1584.0" r="10.05"/>
<circle cx="1079.3" cy="1585.8" r="10.05"/>
<circle cx="1129.5" cy="1315.1" r="10.05"/>
<circle cx="1129.5" cy="1325.3" r="10.05"/>
<circle cx="1129.5" cy="1345.0" r="10.05"/>
<circle cx="1129.5" cy="1362.5" r="10.05"/>
<circle cx="1129.5" cy="1370.2" r="10.05"/>
<circle cx="1129.5" cy="1378.0" r="10.05"/>
<circle cx="1129.5" cy="1434.7" r="10.05"/>
<circle cx="1129.5" cy="1466.9" r="10.05"/>
<circle cx="1129.5" cy="1519.3" r="10.05"/>
<circle cx="1129.5" cy="1551.5" r="10.05"/>
<circle cx="1129.5" cy="1563.8" r="10.05"/>
<circle cx="1129.5" cy="1582.3" r="10.05"/>
</g>
<path d="M175.89 1353.6V1030M175.89 1571.8V1593.4M226.08 1225.85V725M226.08 1560.8V1592.5M276.27 1088.6V425M276.27 1530.8V1592.5M326.46 951.5V243.4M326.46 1482.7V1592.5M376.65 895.0V205.9M376.65 1431.2V1592.5M426.84 880.1V204.0M426.84 1391.0V1592.5M477.03 873.1V201.9M477.03 1352.5V1592.5M527.22 867.1V204.6M527.22 1320.0V1592.5M577.41 855.5V194.8M577.41 1299.6V1592.5M627.60 848.4V220M627.60 1268.4V1592.5M677.79 838.9V222M677.79 1251.0V1592.5M727.98 826.1V228M727.98 1227.6V1592.5M778.17 809.0V221M778.17 1202.4V1592.5M828.36 794.4V234M828.36 1170.4V1592.5M878.55 768.4V242M878.55 1121.9V1591.5M928.74 735.0V258M928.74 1055.4V1530M978.93 687.8V268M978.93 970.6V1390M1029.12 647.1V241M1029.12 920.0V1325M1079.31 610.8V201M1079.31 884.2V1297M1129.50 557.9V175.8M1129.50 854.9V1256.5M1179.69 769.4V373.8" stroke="#333" stroke-width="4.45" fill="none"/>
<rect x="169.69" y="1353.6" width="12.4" height="218.20" fill="#fff" stroke="#333" stroke-width="4.45" stroke-linejoin="round"/>
<rect x="219.88" y="1225.85" width="12.4" height="334.95" fill="#fff" stroke="#333" stroke-width="4.45" stroke-linejoin="round"/>
<rect x="270.07" y="1088.6" width="12.4" height="442.20" fill="#fff" stroke="#333" stroke-width="4.45" stroke-linejoin="round"/>
<rect x="320.26" y="951.5" width="12.4" height="531.20" fill="#fff" stroke="#333" stroke-width="4.45" stroke-linejoin="round"/>
<rect x="370.45" y="895.0" width="12.4" height="536.20" fill="#fff" stroke="#333" stroke-width="4.45" stroke-linejoin="round"/>
<rect x="420.64" y="880.1" width="12.4" height="510.90" fill="#fff" stroke="#333" stroke-width="4.45" stroke-linejoin="round"/>
<rect x="470.83" y="873.1" width="12.4" height="479.40" fill="#fff" stroke="#333" stroke-width="4.45" stroke-linejoin="round"/>
<rect x="521.02" y="867.1" width="12.4" height="452.90" fill="#fff" stroke="#333" stroke-width="4.45" stroke-linejoin="round"/>
<rect x="571.21" y="855.5" width="12.4" height="444.10" fill="#fff" stroke="#333" stroke-width="4.45" stroke-linejoin="round"/>
<rect x="621.40" y="848.4" width="12.4" height="420.00" fill="#fff" stroke="#333" stroke-width="4.45" stroke-linejoin="round"/>
<rect x="671.59" y="838.9" width="12.4" height="412.10" fill="#fff" stroke="#333" stroke-width="4.45" stroke-linejoin="round"/>
<rect x="721.78" y="826.1" width="12.4" height="401.50" fill="#fff" stroke="#333" stroke-width="4.45" stroke-linejoin="round"/>
<rect x="771.97" y="809.0" width="12.4" height="393.40" fill="#fff" stroke="#333" stroke-width="4.45" stroke-linejoin="round"/>
<rect x="822.16" y="794.4" width="12.4" height="376.00" fill="#fff" stroke="#333" stroke-width="4.45" stroke-linejoin="round"/>
<rect x="872.35" y="768.4" width="12.4" height="353.50" fill="#fff" stroke="#333" stroke-width="4.45" stroke-linejoin="round"/>
<rect x="922.54" y="735.0" width="12.4" height="320.40" fill="#fff" stroke="#333" stroke-width="4.45" stroke-linejoin="round"/>
<rect x="972.73" y="687.8" width="12.4" height="282.80" fill="#fff" stroke="#333" stroke-width="4.45" stroke-linejoin="round"/>
<rect x="1022.92" y="647.1" width="12.4" height="272.90" fill="#fff" stroke="#333" stroke-width="4.45" stroke-linejoin="round"/>
<rect x="1073.11" y="610.8" width="12.4" height="273.40" fill="#fff" stroke="#333" stroke-width="4.45" stroke-linejoin="round"/>
<rect x="1123.30" y="557.9" width="12.4" height="297.00" fill="#fff" stroke="#333" stroke-width="4.45" stroke-linejoin="round"/>
<rect x="1173.49" y="769.4" width="12.4" height="698.10" fill="#fff" stroke="#333" stroke-width="4.45" stroke-linejoin="round"/>
<path d="M169.69 1528.0H182.09M219.88 1415.2H232.28M270.07 1313.5H282.47M320.26 1233.4H332.66M370.45 1177.8H382.85M420.64 1124.4H433.04M470.83 1081.8H483.23M521.02 1041.1H533.42M571.21 1010.5H583.61M621.40 992.3H633.80M671.59 973.0H683.99M721.78 956.4H734.18M771.97 942.6H784.37M822.16 929.3H834.56M872.35 909.3H884.75M922.54 888.6H934.94M972.73 852.0H985.13M1022.92 814.1H1035.32M1073.11 766.6H1085.51M1123.30 711.0H1135.70M1173.49 857.4H1185.89" stroke="#333" stroke-width="8.9" fill="none"/>
<text x="125.70" y="1713.2" text-anchor="middle" font-size="36.67" fill="#4D4D4D" font-family="Liberation Sans, Arial, Helvetica, sans-serif">0</text>
<text x="376.65" y="1713.2" text-anchor="middle" font-size="36.67" fill="#4D4D4D" font-family="Liberation Sans, Arial, Helvetica, sans-serif">5</text>
<text x="627.60" y="1713.2" text-anchor="middle" font-size="36.67" fill="#4D4D4D" font-family="Liberation Sans, Arial, Helvetica, sans-serif">10</text>
<text x="878.55" y="1713.2" text-anchor="middle" font-size="36.67" fill="#4D4D4D" font-family="Liberation Sans, Arial, Helvetica, sans-serif">15</text>
<text x="1129.50" y="1713.2" text-anchor="middle" font-size="36.67" fill="#4D4D4D" font-family="Liberation Sans, Arial, Helvetica, sans-serif">20</text>
<path d="M125.70 1665.0v11.46M376.65 1665.0v11.46M627.60 1665.0v11.46M878.55 1665.0v11.46M1129.50 1665.0v11.46" stroke="#333" stroke-width="4.45" fill="none"/>
<rect x="1259.50" y="22.9" width="1117.60" height="72.10" fill="#D9D9D9"/>
<text x="1818.30" y="72.8" text-anchor="middle" font-size="36.67" letter-spacing="-0.2" fill="#1A1A1A" font-family="Liberation Sans, Arial, Helvetica, sans-serif">taboo</text>
<rect x="1259.50" y="95.0" width="1117.60" height="1570.0" fill="#EBEBEB"/>
<path d="M1259.50 1457.25H2377.10M1259.50 1161.55H2377.10M1259.50 865.85H2377.10M1259.50 570.15H2377.10M1259.50 274.45H2377.10M1391.57 95.0V1665.0M1642.52 95.0V1665.0M1893.47 95.0V1665.0M2144.42 95.0V1665.0" stroke="#fff" stroke-width="2.22" fill="none"/>
<path d="M1259.50 1605.10H2377.10M1259.50 1309.40H2377.10M1259.50 1013.70H2377.10M1259.50 718.00H2377.10M1259.50 422.30H2377.10M1259.50 126.60H2377.10M1266.10 95.0V1665.0M1517.05 95.0V1665.0M1768.00 95.0V1665.0M2018.95 95.0V1665.0M2269.90 95.0V1665.0" stroke="#fff" stroke-width="4.45" fill="none"/>
<g fill="#333" stroke="none">
<circle cx="1316.3" cy="252.3" r="10.05"/>
<circle cx="1316.3" cy="257.2" r="10.05"/>
<circle cx="1316.3" cy="337.2" r="10.05"/>
<circle cx="1316.3" cy="357.0" r="10.05"/>
<circle cx="1316.3" cy="363.2" r="10.05"/>
<circle cx="1316.3" cy="462.0" r="10.05"/>
<circle cx="1316.3" cy="466.0" r="10.05"/>
<circle cx="1316.3" cy="470.0" r="10.05"/>
<circle cx="1316.3" cy="474.0" r="10.05"/>
<circle cx="1316.3" cy="484.0" r="10.05"/>
<circle cx="1316.3" cy="488.0" r="10.05"/>
<circle cx="1316.3" cy="492.0" r="10.05"/>
<circle cx="1316.3" cy="496.0" r="10.05"/>
<circle cx="1316.3" cy="497.5" r="10.05"/>
<circle cx="1316.3" cy="544.8" r="10.05"/>
<circle cx="1316.3" cy="567.3" r="10.05"/>
<circle cx="1316.3" cy="641.3" r="10.05"/>
<circle cx="1316.3" cy="650.0" r="10.05"/>
<circle cx="1316.3" cy="657.0" r="10.05"/>
<circle cx="1316.3" cy="693.9" r="10.05"/>
<circle cx="1316.3" cy="723.3" r="10.05"/>
<circle cx="1316.3" cy="731.0" r="10.05"/>
<circle cx="1316.3" cy="742.2" r="10.05"/>
<circle cx="1316.3" cy="757.0" r="10.05"/>
<circle cx="1316.3" cy="761.0" r="10.05"/>
<circle cx="1316.3" cy="765.0" r="10.05"/>
<circle cx="1316.3" cy="769.0" r="10.05"/>
<circle cx="1316.3" cy="773.0" r="10.05"/>
<circle cx="1316.3" cy="777.0" r="10.05"/>
<circle cx="1316.3" cy="781.0" r="10.05"/>
<circle cx="1316.3" cy="785.0" r="10.05"/>
<circle cx="1316.3" cy="789.0" r="10.05"/>
<circle cx="1316.3" cy="793.0" r="10.05"/>
<circle cx="1316.3" cy="797.0" r="10.05"/>
<circle cx="1316.3" cy="801.0" r="10.05"/>
<circle cx="1316.3" cy="805.0" r="10.05"/>
<circle cx="1316.3" cy="809.0" r="10.05"/>
<circle cx="1316.3" cy="813.0" r="10.05"/>
<circle cx="1316.3" cy="817.0" r="10.05"/>
<circle cx="1316.3" cy="821.0" r="10.05"/>
<circle cx="1316.3" cy="825.0" r="10.05"/>
<circle cx="1316.3" cy="829.0" r="10.05"/>
<circle cx="1316.3" cy="833.0" r="10.05"/>
<circle cx="1316.3" cy="837.0" r="10.05"/>
<circle cx="1316.3" cy="841.0" r="10.05"/>
<circle cx="1316.3" cy="845.0" r="10.05"/>
<circle cx="1316.3" cy="849.0" r="10.05"/>
<circle cx="1316.3" cy="853.0" r="10.05"/>
<circle cx="1316.3" cy="857.0" r="10.05"/>
<circle cx="1316.3" cy="857.7" r="10.05"/>
<circle cx="1366.5" cy="238.7" r="10.05"/>
<circle cx="1366.5" cy="251.0" r="10.05"/>
<circle cx="1366.5" cy="276.7" r="10.05"/>
<circle cx="1366.5" cy="290.8" r="10.05"/>
<circle cx="1366.5" cy="297.1" r="10.05"/>
<circle cx="1366.5" cy="324.2" r="10.05"/>
<circle cx="1366.5" cy="331.5" r="10.05"/>
<circle cx="1366.5" cy="371.9" r="10.05"/>
<circle cx="1366.5" cy="387.4" r="10.05"/>
<circle cx="1567.2" cy="204.3" r="10.05"/>
<circle cx="1567.2" cy="208.3" r="10.05"/>
<circle cx="1567.2" cy="212.3" r="10.05"/>
<circle cx="1567.2" cy="216.3" r="10.05"/>
<circle cx="1567.2" cy="220.3" r="10.05"/>
<circle cx="1567.2" cy="224.3" r="10.05"/>
<circle cx="1567.2" cy="228.3" r="10.05"/>
<circle cx="1567.2" cy="232.3" r="10.05"/>
<circle cx="1567.2" cy="236.3" r="10.05"/>
<circle cx="1567.2" cy="240.3" r="10.05"/>
<circle cx="1567.2" cy="244.3" r="10.05"/>
<circle cx="1567.2" cy="248.3" r="10.05"/>
<circle cx="1567.2" cy="252.3" r="10.05"/>
<circle cx="1567.2" cy="256.3" r="10.05"/>
<circle cx="1567.2" cy="260.3" r="10.05"/>
<circle cx="1567.2" cy="264.3" r="10.05"/>
<circle cx="1567.2" cy="268.3" r="10.05"/>
<circle cx="1567.2" cy="272.3" r="10.05"/>
<circle cx="1567.2" cy="276.3" r="10.05"/>
<circle cx="1567.2" cy="280.3" r="10.05"/>
<circle cx="1567.2" cy="284.3" r="10.05"/>
<circle cx="1567.2" cy="288.3" r="10.05"/>
<circle cx="1567.2" cy="292.3" r="10.05"/>
<circle cx="1567.2" cy="296.3" r="10.05"/>
<circle cx="1567.2" cy="300.3" r="10.05"/>
<circle cx="1567.2" cy="304.3" r="10.05"/>
<circle cx="1567.2" cy="308.3" r="10.05"/>
<circle cx="1567.2" cy="312.3" r="10.05"/>
<circle cx="1567.2" cy="313.8" r="10.05"/>
<circle cx="1567.2" cy="1558.6" r="10.05"/>
<circle cx="1567.2" cy="1562.6" r="10.05"/>
<circle cx="1567.2" cy="1566.6" r="10.05"/>
<circle cx="1567.2" cy="1570.6" r="10.05"/>
<circle cx="1567.2" cy="1574.6" r="10.05"/>
<circle cx="1567.2" cy="1578.6" r="10.05"/>
<circle cx="1567.2" cy="1582.6" r="10.05"/>
<circle cx="1567.2" cy="1586.6" r="10.05"/>
<circle cx="1567.2" cy="1590.6" r="10.05"/>
<circle cx="1567.2" cy="1591.3" r="10.05"/>
<circle cx="1617.4" cy="190.5" r="10.05"/>
<circle cx="1617.4" cy="194.5" r="10.05"/>
<circle cx="1617.4" cy="198.5" r="10.05"/>
<circle cx="1617.4" cy="202.5" r="10.05"/>
<circle cx="1617.4" cy="206.5" r="10.05"/>
<circle cx="1617.4" cy="210.5" r="10.05"/>
<circle cx="1617.4" cy="214.5" r="10.05"/>
<circle cx="1617.4" cy="218.5" r="10.05"/>
<circle cx="1617.4" cy="222.5" r="10.05"/>
<circle cx="1617.4" cy="226.5" r="10.05"/>
<circle cx="1617.4" cy="230.5" r="10.05"/>
<circle cx="1617.4" cy="234.5" r="10.05"/>
<circle cx="1617.4" cy="238.5" r="10.05"/>
<circle cx="1617.4" cy="242.5" r="10.05"/>
<circle cx="1617.4" cy="246.5" r="10.05"/>
<circle cx="1617.4" cy="250.5" r="10.05"/>
<circle cx="1617.4" cy="254.5" r="10.05"/>
<circle cx="1617.4" cy="258.5" r="10.05"/>
<circle cx="1617.4" cy="262.5" r="10.05"/>
<circle cx="1617.4" cy="266.5" r="10.05"/>
<circle cx="1617.4" cy="270.5" r="10.05"/>
<circle cx="1617.4" cy="274.5" r="10.05"/>
<circle cx="1617.4" cy="278.5" r="10.05"/>
<circle cx="1617.4" cy="282.5" r="10.05"/>
<circle cx="1617.4" cy="286.5" r="10.05"/>
<circle cx="1617.4" cy="290.5" r="10.05"/>
<circle cx="1617.4" cy="294.5" r="10.05"/>
<circle cx="1617.4" cy="297.8" r="10.05"/>
<circle cx="1617.4" cy="309.8" r="10.05"/>
<circle cx="1617.4" cy="313.8" r="10.05"/>
<circle cx="1617.4" cy="317.8" r="10.05"/>
<circle cx="1617.4" cy="321.8" r="10.05"/>
<circle cx="1617.4" cy="325.8" r="10.05"/>
<circle cx="1617.4" cy="329.8" r="10.05"/>
<circle cx="1617.4" cy="333.8" r="10.05"/>
<circle cx="1617.4" cy="337.8" r="10.05"/>
<circle cx="1617.4" cy="338.8" r="10.05"/>
<circle cx="1617.4" cy="1468.3" r="10.05"/>
<circle cx="1617.4" cy="1481.0" r="10.05"/>
<circle cx="1617.4" cy="1490.2" r="10.05"/>
<circle cx="1617.4" cy="1507.8" r="10.05"/>
<circle cx="1617.4" cy="1511.8" r="10.05"/>
<circle cx="1617.4" cy="1515.8" r="10.05"/>
<circle cx="1617.4" cy="1519.8" r="10.05"/>
<circle cx="1617.4" cy="1523.8" r="10.05"/>
<circle cx="1617.4" cy="1527.8" r="10.05"/>
<circle cx="1617.4" cy="1531.8" r="10.05"/>
<circle cx="1617.4" cy="1535.8" r="10.05"/>
<circle cx="1617.4" cy="1536.6" r="10.05"/>
<circle cx="1617.4" cy="1559.8" r="10.05"/>
<circle cx="1617.4" cy="1563.8" r="10.05"/>
<circle cx="1617.4" cy="1567.8" r="10.05"/>
<circle cx="1617.4" cy="1571.8" r="10.05"/>
<circle cx="1617.4" cy="1575.8" r="10.05"/>
<circle cx="1617.4" cy="1579.8" r="10.05"/>
<circle cx="1617.4" cy="1583.8" r="10.05"/>
<circle cx="1617.4" cy="1587.8" r="10.05"/>
<circle cx="1617.4" cy="1591.3" r="10.05"/>
<circle cx="1667.6" cy="194.0" r="10.05"/>
<circle cx="1667.6" cy="212.0" r="10.05"/>
<circle cx="1667.6" cy="222.0" r="10.05"/>
<circle cx="1667.6" cy="226.0" r="10.05"/>
<circle cx="1667.6" cy="230.0" r="10.05"/>
<circle cx="1667.6" cy="234.0" r="10.05"/>
<circle cx="1667.6" cy="238.0" r="10.05"/>
<circle cx="1667.6" cy="242.0" r="10.05"/>
<circle cx="1667.6" cy="246.0" r="10.05"/>
<circle cx="1667.6" cy="250.0" r="10.05"/>
<circle cx="1667.6" cy="254.0" r="10.05"/>
<circle cx="1667.6" cy="258.0" r="10.05"/>
<circle cx="1667.6" cy="262.0" r="10.05"/>
<circle cx="1667.6" cy="266.0" r="10.05"/>
<circle cx="1667.6" cy="270.0" r="10.05"/>
<circle cx="1667.6" cy="274.0" r="10.05"/>
<circle cx="1667.6" cy="278.0" r="10.05"/>
<circle cx="1667.6" cy="282.0" r="10.05"/>
<circle cx="1667.6" cy="286.0" r="10.05"/>
<circle cx="1667.6" cy="290.0" r="10.05"/>
<circle cx="1667.6" cy="294.0" r="10.05"/>
<circle cx="1667.6" cy="298.0" r="10.05"/>
<circle cx="1667.6" cy="302.0" r="10.05"/>
<circle cx="1667.6" cy="303.5" r="10.05"/>
<circle cx="1667.6" cy="1418.7" r="10.05"/>
<circle cx="1667.6" cy="1427.2" r="10.05"/>
<circle cx="1667.6" cy="1446.0" r="10.05"/>
<circle cx="1667.6" cy="1455.3" r="10.05"/>
<circle cx="1667.6" cy="1509.0" r="10.05"/>
<circle cx="1667.6" cy="1523.2" r="10.05"/>
<circle cx="1667.6" cy="1549.3" r="10.05"/>
<circle cx="1667.6" cy="1565.2" r="10.05"/>
<circle cx="1667.6" cy="1569.2" r="10.05"/>
<circle cx="1667.6" cy="1573.2" r="10.05"/>
<circle cx="1667.6" cy="1577.2" r="10.05"/>
<circle cx="1667.6" cy="1581.2" r="10.05"/>
<circle cx="1667.6" cy="1585.2" r="10.05"/>
<circle cx="1667.6" cy="1589.2" r="10.05"/>
<circle cx="1667.6" cy="1591.3" r="10.05"/>
<circle cx="1717.8" cy="195.9" r="10.05"/>
<circle cx="1717.8" cy="231.7" r="10.05"/>
<circle cx="1717.8" cy="235.7" r="10.05"/>
<circle cx="1717.8" cy="239.7" r="10.05"/>
<circle cx="1717.8" cy="243.7" r="10.05"/>
<circle cx="1717.8" cy="247.7" r="10.05"/>
<circle cx="1717.8" cy="251.7" r="10.05"/>
<circle cx="1717.8" cy="255.7" r="10.05"/>
<circle cx="1717.8" cy="259.7" r="10.05"/>
<circle cx="1717.8" cy="263.7" r="10.05"/>
<circle cx="1717.8" cy="267.7" r="10.05"/>
<circle cx="1717.8" cy="271.7" r="10.05"/>
<circle cx="1717.8" cy="275.7" r="10.05"/>
<circle cx="1717.8" cy="278.9" r="10.05"/>
<circle cx="1717.8" cy="290.9" r="10.05"/>
<circle cx="1717.8" cy="294.9" r="10.05"/>
<circle cx="1717.8" cy="298.9" r="10.05"/>
<circle cx="1717.8" cy="302.9" r="10.05"/>
<circle cx="1717.8" cy="306.9" r="10.05"/>
<circle cx="1717.8" cy="310.9" r="10.05"/>
<circle cx="1717.8" cy="314.9" r="10.05"/>
<circle cx="1717.8" cy="318.9" r="10.05"/>
<circle cx="1717.8" cy="322.9" r="10.05"/>
<circle cx="1717.8" cy="326.9" r="10.05"/>
<circle cx="1717.8" cy="330.9" r="10.05"/>
<circle cx="1717.8" cy="334.9" r="10.05"/>
<circle cx="1717.8" cy="338.9" r="10.05"/>
<circle cx="1717.8" cy="342.9" r="10.05"/>
<circle cx="1717.8" cy="345.6" r="10.05"/>
<circle cx="1717.8" cy="1325.9" r="10.05"/>
<circle cx="1717.8" cy="1333.2" r="10.05"/>
<circle cx="1717.8" cy="1346.7" r="10.05"/>
<circle cx="1717.8" cy="1351.6" r="10.05"/>
<circle cx="1717.8" cy="1360.6" r="10.05"/>
<circle cx="1717.8" cy="1388.9" r="10.05"/>
<circle cx="1717.8" cy="1398.5" r="10.05"/>
<circle cx="1717.8" cy="1411.0" r="10.05"/>
<circle cx="1717.8" cy="1420.0" r="10.05"/>
<circle cx="1717.8" cy="1429.0" r="10.05"/>
<circle cx="1717.8" cy="1442.4" r="10.05"/>
<circle cx="1717.8" cy="1472.6" r="10.05"/>
<circle cx="1717.8" cy="1507.8" r="10.05"/>
<circle cx="1717.8" cy="1522.5" r="10.05"/>
<circle cx="1717.8" cy="1537.6" r="10.05"/>
<circle cx="1717.8" cy="1563.5" r="10.05"/>
<circle cx="1717.8" cy="1567.5" r="10.05"/>
<circle cx="1717.8" cy="1571.5" r="10.05"/>
<circle cx="1717.8" cy="1575.5" r="10.05"/>
<circle cx="1717.8" cy="1579.5" r="10.05"/>
<circle cx="1717.8" cy="1583.5" r="10.05"/>
<circle cx="1717.8" cy="1587.5" r="10.05"/>
<circle cx="1717.8" cy="1591.3" r="10.05"/>
<circle cx="1768.0" cy="197.5" r="10.05"/>
<circle cx="1768.0" cy="231.7" r="10.05"/>
<circle cx="1768.0" cy="235.7" r="10.05"/>
<circle cx="1768.0" cy="239.7" r="10.05"/>
<circle cx="1768.0" cy="243.7" r="10.05"/>
<circle cx="1768.0" cy="247.7" r="10.05"/>
<circle cx="1768.0" cy="251.7" r="10.05"/>
<circle cx="1768.0" cy="255.7" r="10.05"/>
<circle cx="1768.0" cy="259.7" r="10.05"/>
<circle cx="1768.0" cy="263.7" r="10.05"/>
<circle cx="1768.0" cy="267.7" r="10.05"/>
<circle cx="1768.0" cy="271.7" r="10.05"/>
<circle cx="1768.0" cy="275.7" r="10.05"/>
<circle cx="1768.0" cy="279.7" r="10.05"/>
<circle cx="1768.0" cy="283.7" r="10.05"/>
<circle cx="1768.0" cy="287.7" r="10.05"/>
<circle cx="1768.0" cy="291.7" r="10.05"/>
<circle cx="1768.0" cy="295.7" r="10.05"/>
<circle cx="1768.0" cy="299.7" r="10.05"/>
<circle cx="1768.0" cy="303.7" r="10.05"/>
<circle cx="1768.0" cy="307.7" r="10.05"/>
<circle cx="1768.0" cy="311.7" r="10.05"/>
<circle cx="1768.0" cy="315.7" r="10.05"/>
<circle cx="1768.0" cy="317.6" r="10.05"/>
<circle cx="1768.0" cy="1340.3" r="10.05"/>
<circle cx="1768.0" cy="1391.3" r="10.05"/>
<circle cx="1768.0" cy="1398.0" r="10.05"/>
<circle cx="1768.0" cy="1413.8" r="10.05"/>
<circle cx="1768.0" cy="1424.8" r="10.05"/>
<circle cx="1768.0" cy="1471.9" r="10.05"/>
<circle cx="1768.0" cy="1482.2" r="10.05"/>
<circle cx="1768.0" cy="1490.7" r="10.05"/>
<circle cx="1768.0" cy="1510.2" r="10.05"/>
<circle cx="1768.0" cy="1518.8" r="10.05"/>
<circle cx="1768.0" cy="1534.2" r="10.05"/>
<circle cx="1768.0" cy="1564.7" r="10.05"/>
<circle cx="1768.0" cy="1576.0" r="10.05"/>
<circle cx="1768.0" cy="1580.0" r="10.05"/>
<circle cx="1768.0" cy="1584.0" r="10.05"/>
<circle cx="1768.0" cy="1588.0" r="10.05"/>
<circle cx="1768.0" cy="1590.3" r="10.05"/>
<circle cx="1818.2" cy="197.5" r="10.05"/>
<circle cx="1818.2" cy="1391.1" r="10.05"/>
<circle cx="1818.2" cy="1405.1" r="10.05"/>
<circle cx="1818.2" cy="1412.7" r="10.05"/>
<circle cx="1818.2" cy="1419.7" r="10.05"/>
<circle cx="1818.2" cy="1467.8" r="10.05"/>
<circle cx="1818.2" cy="1480.5" r="10.05"/>
<circle cx="1818.2" cy="1500.8" r="10.05"/>
<circle cx="1818.2" cy="1510.1" r="10.05"/>
<circle cx="1818.2" cy="1565.8" r="10.05"/>
<circle cx="1818.2" cy="1582.3" r="10.05"/>
<circle cx="1818.2" cy="1589.9" r="10.05"/>
<circle cx="1868.4" cy="197.0" r="10.05"/>
<circle cx="1868.4" cy="203.7" r="10.05"/>
<circle cx="1868.4" cy="1401.8" r="10.05"/>
<circle cx="1868.4" cy="1415.2" r="10.05"/>
<circle cx="1868.4" cy="1453.2" r="10.05"/>
<circle cx="1868.4" cy="1468.4" r="10.05"/>
<circle cx="1868.4" cy="1490.6" r="10.05"/>
<circle cx="1868.4" cy="1500.8" r="10.05"/>
<circle cx="1868.4" cy="1510.1" r="10.05"/>
<circle cx="1868.4" cy="1565.8" r="10.05"/>
<circle cx="1868.4" cy="1586.6" r="10.05"/>
<circle cx="1868.4" cy="1590.0" r="10.05"/>
<circle cx="1918.6" cy="193.8" r="10.05"/>
<circle cx="1918.6" cy="197.8" r="10.05"/>
<circle cx="1918.6" cy="201.8" r="10.05"/>
<circle cx="1918.6" cy="205.8" r="10.05"/>
<circle cx="1918.6" cy="209.8" r="10.05"/>
<circle cx="1918.6" cy="213.8" r="10.05"/>
<circle cx="1918.6" cy="216.7" r="10.05"/>
<circle cx="1918.6" cy="1325.8" r="10.05"/>
<circle cx="1918.6" cy="1329.6" r="10.05"/>
<circle cx="1918.6" cy="1414.4" r="10.05"/>
<circle cx="1918.6" cy="1450.1" r="10.05"/>
<circle cx="1918.6" cy="1468.4" r="10.05"/>
<circle cx="1918.6" cy="1478.5" r="10.05"/>
<circle cx="1918.6" cy="1510.1" r="10.05"/>
<circle cx="1918.6" cy="1565.8" r="10.05"/>
<circle cx="1918.6" cy="1584.8" r="10.05"/>
<circle cx="1918.6" cy="1589.9" r="10.05"/>
<circle cx="1968.8" cy="1315.7" r="10.05"/>
<circle cx="1968.8" cy="1423.5" r="10.05"/>
<circle cx="1968.8" cy="1441.8" r="10.05"/>
<circle cx="1968.8" cy="1456.2" r="10.05"/>
<circle cx="1968.8" cy="1491.6" r="10.05"/>
<circle cx="1968.8" cy="1510.1" r="10.05"/>
<circle cx="1968.8" cy="1560.8" r="10.05"/>
<circle cx="1968.8" cy="1570.9" r="10.05"/>
<circle cx="1968.8" cy="1584.8" r="10.05"/>
<circle cx="1968.8" cy="1589.9" r="10.05"/>
<circle cx="2018.9" cy="1329.6" r="10.05"/>
<circle cx="2018.9" cy="1423.3" r="10.05"/>
<circle cx="2018.9" cy="1436.7" r="10.05"/>
<circle cx="2018.9" cy="1449.4" r="10.05"/>
<circle cx="2018.9" cy="1472.9" r="10.05"/>
<circle cx="2018.9" cy="1483.0" r="10.05"/>
<circle cx="2018.9" cy="1510.1" r="10.05"/>
<circle cx="2018.9" cy="1535.9" r="10.05"/>
<circle cx="2018.9" cy="1554.9" r="10.05"/>
<circle cx="2018.9" cy="1567.1" r="10.05"/>
<circle cx="2018.9" cy="1583.5" r="10.05"/>
<circle cx="2069.1" cy="1322.3" r="10.05"/>
<circle cx="2069.1" cy="1419.2" r="10.05"/>
<circle cx="2069.1" cy="1430.4" r="10.05"/>
<circle cx="2069.1" cy="1439.2" r="10.05"/>
<circle cx="2069.1" cy="1446.8" r="10.05"/>
<circle cx="2069.1" cy="1493.2" r="10.05"/>
<circle cx="2069.1" cy="1502.5" r="10.05"/>
<circle cx="2069.1" cy="1510.1" r="10.05"/>
<circle cx="2069.1" cy="1519.0" r="10.05"/>
<circle cx="2069.1" cy="1535.4" r="10.05"/>
<circle cx="2069.1" cy="1565.8" r="10.05"/>
<circle cx="2119.3" cy="1342.5" r="10.05"/>
<circle cx="2119.3" cy="1368.9" r="10.05"/>
<circle cx="2119.3" cy="1381.0" r="10.05"/>
<circle cx="2119.3" cy="1394.9" r="10.05"/>
<circle cx="2119.3" cy="1405.0" r="10.05"/>
<circle cx="2119.3" cy="1415.2" r="10.05"/>
<circle cx="2119.3" cy="1447.3" r="10.05"/>
<circle cx="2119.3" cy="1493.2" r="10.05"/>
<circle cx="2119.3" cy="1502.5" r="10.05"/>
<circle cx="2119.3" cy="1510.1" r="10.05"/>
<circle cx="2169.5" cy="1297.0" r="10.05"/>
<circle cx="2169.5" cy="1305.1" r="10.05"/>
<circle cx="2169.5" cy="1381.0" r="10.05"/>
<circle cx="2169.5" cy="1383.0" r="10.05"/>
<circle cx="2169.5" cy="1448.1" r="10.05"/>
<circle cx="2169.5" cy="1509.9" r="10.05"/>
<circle cx="2219.7" cy="1220.3" r="10.05"/>
<circle cx="2219.7" cy="1227.8" r="10.05"/>
<circle cx="2219.7" cy="1338.7" r="10.05"/>
<circle cx="2219.7" cy="1376.5" r="10.05"/>
<circle cx="2219.7" cy="1383.0" r="10.05"/>
</g>
<path d="M1316.29 1285.0V860M1316.29 1568.0V1590.8M1366.48 1057.4V398.2M1366.48 1497.2V1589.8M1416.67 809.3V239.0M1416.67 1329.2V1589.8M1466.86 750.5V236.0M1466.86 1207.7V1589.8M1517.05 757.3V202.7M1517.05 1160.2V1589.6M1567.24 780.0V318M1567.24 1089.7V1530.5M1617.43 761.3V343M1617.43 1039.8V1452.9M1667.62 720.9V317.4M1667.62 992.1V1393.1M1717.81 715.5V350M1717.81 959.0V1322M1768.00 696.8V322M1768.00 948.1V1323.5M1818.19 646.3V217.9M1818.19 943.0V1388M1868.38 637.5V210M1868.38 925.8V1325.8M1918.57 638.6V234.1M1918.57 911.7V1322M1968.76 620.2V216.2M1968.76 895.9V1291.9M2018.95 607.2V217.9M2018.95 892.7V1315.7M2069.14 600.4V221.1M2069.14 880.5V1298.7M2119.33 559.7V222.2M2119.33 858.8V1298.7M2169.52 533.9V219.2M2169.52 816.4V1224.7M2219.71 519.5V224.9M2219.71 797.2V1160.5M2269.90 409.3V208.6M2269.90 737.9V1166.5" stroke="#333" stroke-width="4.45" fill="none"/>
<rect x="1310.09" y="1285.0" width="12.4" height="283.00" fill="#fff" stroke="#333" stroke-width="4.45" stroke-linejoin="round"/>
<rect x="1360.28" y="1057.4" width="12.4" height="439.80" fill="#fff" stroke="#333" stroke-width="4.45" stroke-linejoin="round"/>
<rect x="1410.47" y="809.3" width="12.4" height="519.90" fill="#fff" stroke="#333" stroke-width="4.45" stroke-linejoin="round"/>
<rect x="1460.66" y="750.5" width="12.4" height="457.20" fill="#fff" stroke="#333" stroke-width="4.45" stroke-linejoin="round"/>
<rect x="1510.85" y="757.3" width="12.4" height="402.90" fill="#fff" stroke="#333" stroke-width="4.45" stroke-linejoin="round"/>
<rect x="1561.04" y="780.0" width="12.4" height="309.70" fill="#fff" stroke="#333" stroke-width="4.45" stroke-linejoin="round"/>
<rect x="1611.23" y="761.3" width="12.4" height="278.50" fill="#fff" stroke="#333" stroke-width="4.45" stroke-linejoin="round"/>
<rect x="1661.42" y="720.9" width="12.4" height="271.20" fill="#fff" stroke="#333" stroke-width="4.45" stroke-linejoin="round"/>
<rect x="1711.61" y="715.5" width="12.4" height="243.50" fill="#fff" stroke="#333" stroke-width="4.45" stroke-linejoin="round"/>
<rect x="1761.80" y="696.8" width="12.4" height="251.30" fill="#fff" stroke="#333" stroke-width="4.45" stroke-linejoin="round"/>
<rect x="1811.99" y="646.3" width="12.4" height="296.70" fill="#fff" stroke="#333" stroke-width="4.45" stroke-linejoin="round"/>
<rect x="1862.18" y="637.5" width="12.4" height="288.30" fill="#fff" stroke="#333" stroke-width="4.45" stroke-linejoin="round"/>
<rect x="1912.37" y="638.6" width="12.4" height="273.10" fill="#fff" stroke="#333" stroke-width="4.45" stroke-linejoin="round"/>
<rect x="1962.56" y="620.2" width="12.4" height="275.70" fill="#fff" stroke="#333" stroke-width="4.45" stroke-linejoin="round"/>
<rect x="2012.75" y="607.2" width="12.4" height="285.50" fill="#fff" stroke="#333" stroke-width="4.45" stroke-linejoin="round"/>
<rect x="2062.94" y="600.4" width="12.4" height="280.10" fill="#fff" stroke="#333" stroke-width="4.45" stroke-linejoin="round"/>
<rect x="2113.13" y="559.7" width="12.4" height="299.10" fill="#fff" stroke="#333" stroke-width="4.45" stroke-linejoin="round"/>
<rect x="2163.32" y="533.9" width="12.4" height="282.50" fill="#fff" stroke="#333" stroke-width="4.45" stroke-linejoin="round"/>
<rect x="2213.51" y="519.5" width="12.4" height="277.70" fill="#fff" stroke="#333" stroke-width="4.45" stroke-linejoin="round"/>
<rect x="2263.70" y="409.3" width="12.4" height="328.60" fill="#fff" stroke="#333" stroke-width="4.45" stroke-linejoin="round"/>
<rect x="2313.89" y="301.3" width="12.4" height="18.00" fill="#fff" stroke="#333" stroke-width="4.45" stroke-linejoin="round"/>
<path d="M1310.09 1452.4H1322.49M1360.28 1294.5H1372.68M1410.47 1111.6H1422.87M1460.66 876.5H1473.06M1510.85 848.5H1523.25M1561.04 868.3H1573.44M1611.23 862.6H1623.63M1661.42 845.8H1673.82M1711.61 841.7H1724.01M1761.80 845.5H1774.20M1811.99 831.2H1824.39M1862.18 818.7H1874.58M1912.37 800.2H1924.77M1962.56 785.2H1974.96M2012.75 764.3H2025.15M2062.94 744.3H2075.34M2113.13 724.5H2125.53M2163.32 687.0H2175.72M2213.51 666.1H2225.91M2263.70 636.3H2276.10M2313.89 309.8H2326.29" stroke="#333" stroke-width="8.9" fill="none"/>
<text x="1266.10" y="1713.2" text-anchor="middle" font-size="36.67" fill="#4D4D4D" font-family="Liberation Sans, Arial, Helvetica, sans-serif">0</text>
<text x="1517.05" y="1713.2" text-anchor="middle" font-size="36.67" fill="#4D4D4D" font-family="Liberation Sans, Arial, Helvetica, sans-serif">5</text>
<text x="1768.00" y="1713.2" text-anchor="middle" font-size="36.67" fill="#4D4D4D" font-family="Liberation Sans, Arial, Helvetica, sans-serif">10</text>
<text x="2018.95" y="1713.2" text-anchor="middle" font-size="36.67" fill="#4D4D4D" font-family="Liberation Sans, Arial, Helvetica, sans-serif">15</text>
<text x="2269.90" y="1713.2" text-anchor="middle" font-size="36.67" fill="#4D4D4D" font-family="Liberation Sans, Arial, Helvetica, sans-serif">20</text>
<path d="M1266.10 1665.0v11.46M1517.05 1665.0v11.46M1768.00 1665.0v11.46M2018.95 1665.0v11.46M2269.90 1665.0v11.46" stroke="#333" stroke-width="4.45" fill="none"/>
<text x="97.9" y="1618.20" text-anchor="end" font-size="36.67" fill="#4D4D4D" font-family="Liberation Sans, Arial, Helvetica, sans-serif">0</text>
<text x="97.9" y="1322.50" text-anchor="end" font-size="36.67" fill="#4D4D4D" font-family="Liberation Sans, Arial, Helvetica, sans-serif">1</text>
<text x="97.9" y="1026.80" text-anchor="end" font-size="36.67" fill="#4D4D4D" font-family="Liberation Sans, Arial, Helvetica, sans-serif">2</text>
<text x="97.9" y="731.10" text-anchor="end" font-size="36.67" fill="#4D4D4D" font-family="Liberation Sans, Arial, Helvetica, sans-serif">3</text>
<text x="97.9" y="435.40" text-anchor="end" font-size="36.67" fill="#4D4D4D" font-family="Liberation Sans, Arial, Helvetica, sans-serif">4</text>
<text x="97.9" y="139.70" text-anchor="end" font-size="36.67" fill="#4D4D4D" font-family="Liberation Sans, Arial, Helvetica, sans-serif">5</text>
<path d="M119.06 1605.10h-11.46M119.06 1309.40h-11.46M119.06 1013.70h-11.46M119.06 718.00h-11.46M119.06 422.30h-11.46M119.06 126.60h-11.46" stroke="#333" stroke-width="4.45" fill="none"/>
<text x="1247.8" y="1766.6" text-anchor="middle" font-size="45.83" letter-spacing="-0.34" fill="#000" font-family="Liberation Sans, Arial, Helvetica, sans-serif">yearsOld</text>
<text transform="translate(56.4 880.4) rotate(-90)" text-anchor="middle" font-size="45.83" letter-spacing="-0.5" fill="#000" font-family="Liberation Sans, Arial, Helvetica, sans-serif">weighted_sum</text>
</svg>
</body></html>
